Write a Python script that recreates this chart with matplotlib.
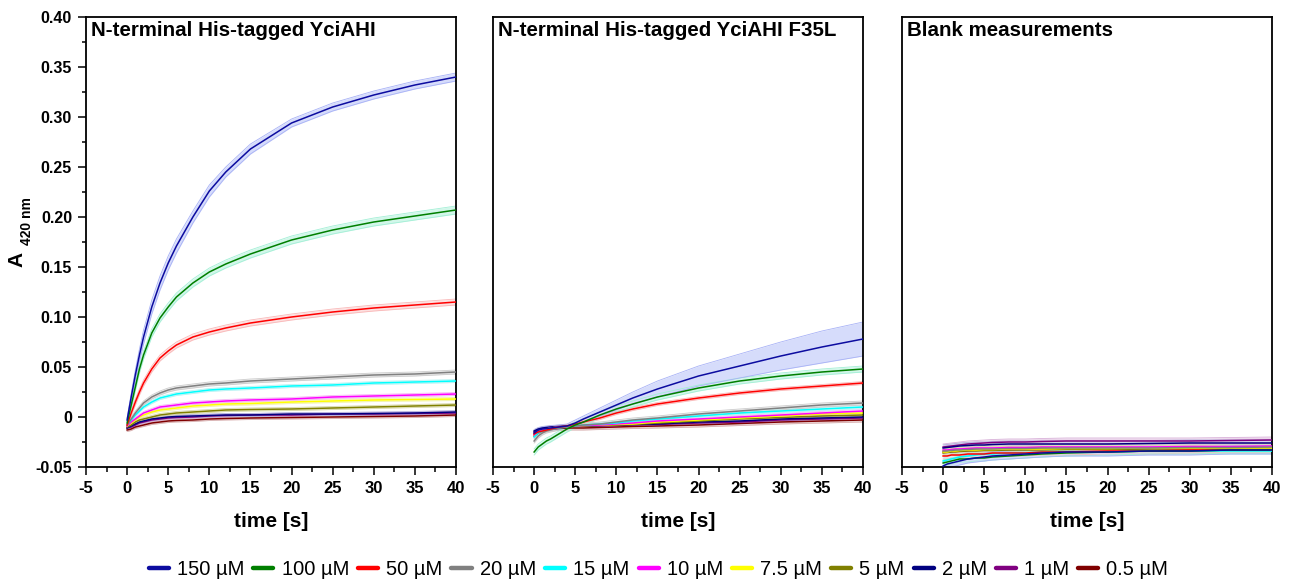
#!/usr/bin/env python3
"""Stopped-flow A420 traces for YciAHI, F35L mutant and blank runs."""

from __future__ import annotations

import matplotlib

matplotlib.use("Agg")
matplotlib.rcParams.update(
    {
        "font.family": ["Liberation Sans", "DejaVu Sans"],
        "axes.linewidth": 1.3,
        "axes.unicode_minus": False,
    }
)
import matplotlib.pyplot as plt
import numpy as np
from matplotlib.lines import Line2D
from matplotlib.ticker import FuncFormatter, MultipleLocator

# time points (s) the traces were read at
TIME_S = [0, 0.5, 1, 1.5, 2, 3, 4, 5, 6, 8, 10, 12, 15, 20, 25, 30, 35, 40]

CONC_LABELS = ["150 µM", "100 µM", "50 µM", "20 µM", "15 µM", "10 µM",
               "7.5 µM", "5 µM", "2 µM", "1 µM", "0.5 µM"]
LINE_COLORS = ["#0c0ca0", "#007f00", "#ff0000", "#808080", "#00ffff", "#ff00ff",
               "#ffff00", "#808000", "#000080", "#800080", "#800000"]
BAND_COLORS = ["#d6dcfb", "#d2f7ea", "#fde0e0", "#e6e6e6", "#d8fafa", "#fbdcfb",
               "#fbfbd2", "#ececd2", "#d6d6ee", "#ecd6ec", "#ecd6d6"]
BAND_EDGES = ["#a8b2f6", "#a3efd6", "#f9b8b8", "#cccccc", "#b5f3f3", "#f5b5f5",
              "#f3f3a8", "#d8d8a8", "#b0b0dd", "#d8b0d8", "#d8b0b0"]

PANEL_TITLES = ["N-terminal His-tagged YciAHI",
                "N-terminal His-tagged YciAHI F35L",
                "Blank measurements"]

# --- wild type -------------------------------------------------------------
WT_150 = [-0.003, 0.020, 0.042, 0.062, 0.080, 0.110, 0.134, 0.154, 0.171, 0.200,
          0.226, 0.245, 0.268, 0.294, 0.310, 0.322, 0.332, 0.340]
WT_100 = [-0.006, 0.012, 0.030, 0.048, 0.062, 0.084, 0.099, 0.110, 0.120, 0.134,
          0.145, 0.153, 0.163, 0.177, 0.187, 0.195, 0.201, 0.207]
WT_50 = [-0.008, 0.004, 0.015, 0.025, 0.034, 0.048, 0.059, 0.066, 0.072, 0.080,
         0.085, 0.089, 0.094, 0.100, 0.105, 0.109, 0.112, 0.115]
WT_20 = [-0.008, -0.002, 0.004, 0.009, 0.014, 0.020, 0.024, 0.027, 0.029, 0.031,
         0.033, 0.034, 0.036, 0.038, 0.040, 0.042, 0.043, 0.045]
WT_15 = [-0.008, -0.003, 0.002, 0.006, 0.010, 0.015, 0.019, 0.021, 0.023, 0.025,
         0.027, 0.028, 0.029, 0.031, 0.032, 0.034, 0.035, 0.036]
WT_10 = [-0.009, -0.005, -0.002, 0.001, 0.004, 0.007, 0.010, 0.011, 0.012, 0.014,
         0.015, 0.016, 0.017, 0.018, 0.020, 0.021, 0.022, 0.023]
WT_7_5 = [-0.009, -0.006, -0.003, 0.000, 0.002, 0.005, 0.007, 0.008, 0.009, 0.011,
          0.012, 0.013, 0.0135, 0.015, 0.016, 0.017, 0.0175, 0.018]
WT_5 = [-0.010, -0.008, -0.005, -0.003, -0.002, 0.000, 0.002, 0.003, 0.004, 0.005,
        0.006, 0.007, 0.0075, 0.008, 0.009, 0.010, 0.011, 0.012]
WT_2 = [-0.011, -0.009, -0.007, -0.005, -0.004, -0.002, -0.001, 0.000, 0.0005, 0.001,
        0.0015, 0.002, 0.002, 0.003, 0.003, 0.0035, 0.004, 0.005]
WT_1 = [-0.011, -0.010, -0.008, -0.006, -0.005, -0.003, -0.002, -0.001, -0.0005, 0.000,
        0.001, 0.0015, 0.002, 0.002, 0.003, 0.003, 0.0035, 0.004]
WT_0_5 = [-0.013, -0.012, -0.010, -0.009, -0.008, -0.006, -0.005, -0.004, -0.0035, -0.003,
          -0.002, -0.0015, -0.001, -0.0005, 0.000, 0.0005, 0.001, 0.002]

# --- F35L mutant -----------------------------------------------------------
MUT_150 = [-0.016, -0.013, -0.012, -0.0115, -0.011, -0.010, -0.009, -0.006, -0.002, 0.005,
           0.012, 0.019, 0.028, 0.041, 0.051, 0.061, 0.070, 0.078]
MUT_100 = [-0.035, -0.030, -0.027, -0.024, -0.022, -0.017, -0.012, -0.008, -0.005, 0.002,
           0.008, 0.013, 0.020, 0.029, 0.036, 0.041, 0.045, 0.048]
MUT_50 = [-0.017, -0.015, -0.014, -0.013, -0.012, -0.010, -0.009, -0.007, -0.005, -0.001,
          0.004, 0.008, 0.013, 0.019, 0.024, 0.028, 0.031, 0.034]
MUT_20 = [-0.024, -0.019, -0.016, -0.014, -0.013, -0.011, -0.010, -0.009, -0.008, -0.007,
          -0.005, -0.003, -0.001, 0.003, 0.006, 0.009, 0.012, 0.014]
MUT_15 = [-0.020, -0.016, -0.014, -0.013, -0.012, -0.011, -0.010, -0.009, -0.008, -0.007,
          -0.006, -0.004, -0.002, 0.001, 0.004, 0.006, 0.008, 0.010]
MUT_10 = [-0.018, -0.015, -0.013, -0.012, -0.011, -0.010, -0.0095, -0.009, -0.0085, -0.008,
          -0.007, -0.006, -0.004, -0.002, 0.000, 0.002, 0.004, 0.006]
MUT_7_5 = [-0.018, -0.015, -0.013, -0.012, -0.011, -0.010, -0.0095, -0.009, -0.0085, -0.008,
           -0.0075, -0.007, -0.005, -0.003, -0.001, 0.001, 0.003, 0.004]
MUT_5 = [-0.017, -0.014, -0.013, -0.012, -0.011, -0.010, -0.0095, -0.009, -0.009, -0.0085,
         -0.008, -0.0075, -0.006, -0.004, -0.002, -0.0005, 0.001, 0.002]
MUT_2 = [-0.014, -0.012, -0.011, -0.0105, -0.010, -0.0095, -0.009, -0.009, -0.009, -0.0085,
         -0.008, -0.0075, -0.007, -0.005, -0.004, -0.002, -0.001, 0.000]
MUT_1 = [-0.015, -0.013, -0.012, -0.011, -0.0105, -0.010, -0.0095, -0.009, -0.009, -0.009,
         -0.0085, -0.008, -0.0075, -0.006, -0.005, -0.003, -0.002, -0.001]
MUT_0_5 = [-0.019, -0.016, -0.014, -0.013, -0.012, -0.0115, -0.011, -0.011, -0.011, -0.0105,
           -0.010, -0.0095, -0.009, -0.008, -0.0065, -0.005, -0.004, -0.003]

# --- blanks ----------------------------------------------------------------
BLK_150 = [-0.049, -0.047, -0.046, -0.045, -0.044, -0.042, -0.041, -0.040, -0.039, -0.038,
           -0.037, -0.036, -0.035, -0.035, -0.034, -0.034, -0.033, -0.033]
BLK_100 = [-0.046, -0.045, -0.044, -0.043, -0.042, -0.042, -0.041, -0.041, -0.040, -0.039,
           -0.038, -0.037, -0.036, -0.035, -0.034, -0.034, -0.033, -0.033]
BLK_50 = [-0.039, -0.039, -0.038, -0.038, -0.038, -0.037, -0.037, -0.037, -0.036, -0.036,
          -0.036, -0.035, -0.035, -0.034, -0.034, -0.033, -0.033, -0.033]
BLK_20 = [-0.034, -0.034, -0.0335, -0.033, -0.033, -0.0325, -0.032, -0.032, -0.032, -0.0315,
          -0.0315, -0.031, -0.031, -0.031, -0.031, -0.0305, -0.0305, -0.030]
BLK_15 = [-0.044, -0.043, -0.042, -0.041, -0.040, -0.039, -0.038, -0.037, -0.037, -0.036,
          -0.036, -0.035, -0.035, -0.035, -0.034, -0.034, -0.034, -0.034]
BLK_10 = [-0.033, -0.033, -0.0325, -0.032, -0.032, -0.0315, -0.031, -0.031, -0.031, -0.0305,
          -0.0305, -0.030, -0.030, -0.030, -0.030, -0.0295, -0.0295, -0.029]
BLK_7_5 = [-0.035, -0.035, -0.034, -0.034, -0.0335, -0.033, -0.033, -0.0325, -0.0325, -0.032,
           -0.032, -0.032, -0.0315, -0.0315, -0.031, -0.031, -0.031, -0.031]
BLK_5 = [-0.036, -0.0355, -0.035, -0.035, -0.0345, -0.034, -0.034, -0.0335, -0.0335, -0.033,
         -0.033, -0.033, -0.0325, -0.0325, -0.032, -0.032, -0.032, -0.032]
BLK_2 = [-0.031, -0.0305, -0.030, -0.0295, -0.029, -0.0285, -0.028, -0.028, -0.0275, -0.027,
         -0.027, -0.027, -0.027, -0.027, -0.0265, -0.026, -0.026, -0.026]
BLK_1 = [-0.030, -0.0295, -0.029, -0.0285, -0.028, -0.027, -0.0265, -0.026, -0.0255, -0.025,
         -0.025, -0.0245, -0.024, -0.024, -0.024, -0.024, -0.0235, -0.023]
BLK_0_5 = [-0.035, -0.035, -0.0345, -0.034, -0.034, -0.0335, -0.033, -0.033, -0.0325, -0.0325,
           -0.032, -0.032, -0.032, -0.032, -0.0315, -0.0315, -0.031, -0.031]

# standard deviation of the replicate traces (half-width of shaded band)
WT_SD = [0.005, 0.004, 0.003, 0.002, 0.0015, 0.0015, 0.0015, 0.0015, 0.0015, 0.0015, 0.0015]
WT_150_SD = [0.002, 0.004, 0.005, 0.006, 0.007, 0.007, 0.007, 0.007, 0.007, 0.006,
             0.006, 0.005, 0.005, 0.004, 0.004, 0.004, 0.004, 0.004]
MUT_SD = [0.0, 0.003, 0.0015, 0.002, 0.0015, 0.0015, 0.0015, 0.0015, 0.0015, 0.0015, 0.002]
MUT_150_SD = [0.002, 0.002, 0.002, 0.002, 0.002, 0.002, 0.002, 0.003, 0.003, 0.004,
              0.005, 0.006, 0.008, 0.010, 0.012, 0.014, 0.016, 0.017]
BLK_SD = [0.004, 0.003, 0.003, 0.003, 0.003, 0.003, 0.003, 0.003, 0.003, 0.003, 0.003]

FIG_W, FIG_H = 1290, 583
AX_LEFT_PX = [86, 493, 902]
AX_W_PX, AX_TOP_PX, AX_BOT_PX = 370, 17, 467


def _panel_series():
    wt = [WT_150, WT_100, WT_50, WT_20, WT_15, WT_10, WT_7_5, WT_5, WT_2, WT_1, WT_0_5]
    mut = [MUT_150, MUT_100, MUT_50, MUT_20, MUT_15, MUT_10, MUT_7_5, MUT_5, MUT_2,
           MUT_1, MUT_0_5]
    blk = [BLK_150, BLK_100, BLK_50, BLK_20, BLK_15, BLK_10, BLK_7_5, BLK_5, BLK_2,
           BLK_1, BLK_0_5]
    wt_sd = [WT_150_SD] + [[s] * len(TIME_S) for s in WT_SD[1:]]
    mut_sd = [MUT_150_SD] + [[s] * len(TIME_S) for s in MUT_SD[1:]]
    blk_sd = [[s] * len(TIME_S) for s in BLK_SD]
    return [(wt, wt_sd), (mut, mut_sd), (blk, blk_sd)]


def _fmt_y(value, _pos):
    if abs(value) < 1e-9:
        return "0"
    return f"{value:.2f}"


def _style_axis(ax, show_y):
    ax.set_xlim(-5, 40)
    ax.set_ylim(-0.05, 0.40)
    ax.xaxis.set_major_locator(MultipleLocator(5))
    ax.xaxis.set_minor_locator(MultipleLocator(2.5))
    ax.tick_params(axis="x", which="major", direction="out", length=6, width=1.1,
                   pad=4, labelsize=12)
    ax.tick_params(axis="x", which="minor", direction="out", length=3.5, width=1.1)
    for lab in ax.get_xticklabels():
        lab.set_fontweight("bold")
    if show_y:
        ax.yaxis.set_major_locator(MultipleLocator(0.05))
        ax.yaxis.set_minor_locator(MultipleLocator(0.025))
        ax.yaxis.set_major_formatter(FuncFormatter(_fmt_y))
        ax.tick_params(axis="y", which="major", direction="out", length=6, width=1.1,
                       pad=4, labelsize=11.5)
        ax.tick_params(axis="y", which="minor", direction="out", length=3, width=1.1)
        for lab in ax.get_yticklabels():
            lab.set_fontweight("bold")
    else:
        ax.set_yticks([])
        ax.yaxis.set_minor_locator(matplotlib.ticker.NullLocator())
    ax.set_xlabel("time [s]", fontsize=15, fontweight="bold")
    ax.xaxis.set_label_coords(0.5, -0.1)


def main() -> int:
    fig = plt.figure(figsize=(FIG_W / 100, FIG_H / 100), dpi=100)
    t = np.asarray(TIME_S)
    for i, ((series, sds), title) in enumerate(zip(_panel_series(), PANEL_TITLES)):
        ax = fig.add_axes([
            AX_LEFT_PX[i] / FIG_W,
            1 - AX_BOT_PX / FIG_H,
            AX_W_PX / FIG_W,
            (AX_BOT_PX - AX_TOP_PX) / FIG_H,
        ])
        for k in range(len(series) - 1, -1, -1):
            y = np.asarray(series[k])
            sd = np.asarray(sds[k])
            if sd.max() <= 0:
                continue
            ax.fill_between(t, y - sd, y + sd, color=BAND_COLORS[k], lw=0, zorder=1)
            ax.plot(t, y - sd, color=BAND_EDGES[k], lw=0.6, zorder=1.5)
            ax.plot(t, y + sd, color=BAND_EDGES[k], lw=0.6, zorder=1.5)
        for k in range(len(series) - 1, -1, -1):
            ax.plot(t, series[k], color=LINE_COLORS[k], lw=1.1, zorder=3)
        _style_axis(ax, show_y=(i == 0))
        ax.text(0.013, 0.99, title, transform=ax.transAxes, ha="left", va="top",
                fontsize=14.8, fontweight="bold")

    fig.text(17 / FIG_W, 1 - 259 / FIG_H, "A", rotation=90, ha="center", va="center",
             fontsize=15, fontweight="bold")
    fig.text(27 / FIG_W, 1 - 221 / FIG_H, "420 nm", rotation=90, ha="center",
             va="center", fontsize=10, fontweight="bold")

    handles = [
        Line2D([], [], color=c, lw=3.2, solid_capstyle="round") for c in LINE_COLORS
    ]
    fig.legend(handles, CONC_LABELS, loc="center", bbox_to_anchor=(0.5105, 0.0225),
               ncol=len(CONC_LABELS), frameon=False, fontsize=14.5, handlelength=1.0,
               handletextpad=0.4, columnspacing=0.45, borderpad=0.0)

    fig.savefig("out.png", dpi=100)
    plt.close(fig)
    return 0


if __name__ == "__main__":
    raise SystemExit(main())
